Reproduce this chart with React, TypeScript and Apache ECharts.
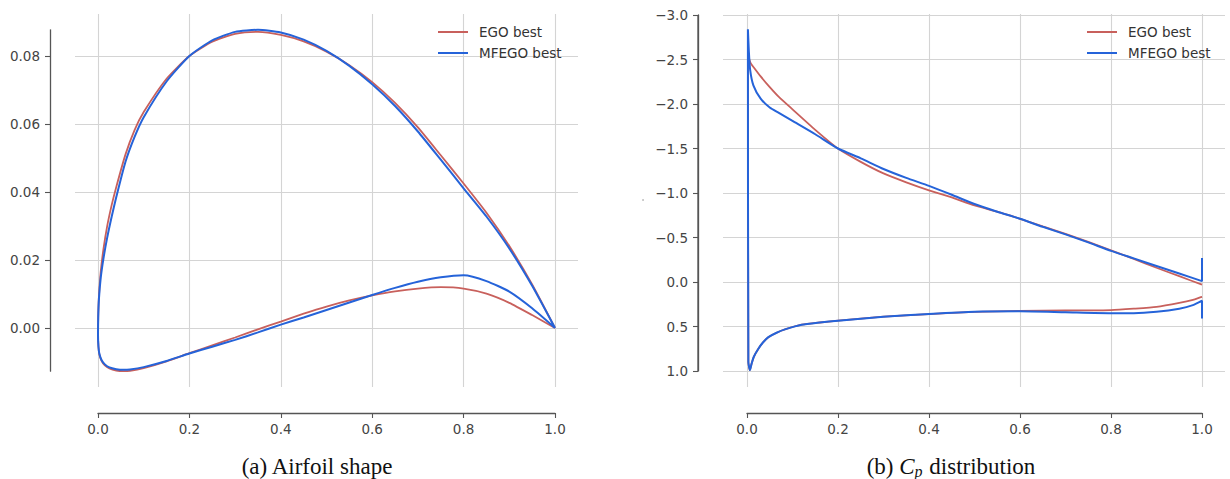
import { useEffect, useRef } from "react";
import * as echarts from "echarts";

// ---- Airfoil shape (x/c, y/c): upper surface TE -> LE, lower surface LE -> TE ----
const egoUpperX = [1.0, 0.95, 0.9, 0.85, 0.8, 0.75, 0.7, 0.65, 0.6, 0.55, 0.5, 0.45, 0.4, 0.35, 0.3, 0.25, 0.2, 0.15, 0.1, 0.08, 0.06, 0.04, 0.03, 0.02, 0.012, 0.006, 0.002, 0.0005, 0.0];
const egoUpperY = [0.0, 0.0128, 0.0241, 0.0339, 0.0425, 0.0508, 0.059, 0.0662, 0.0723, 0.0773, 0.0813, 0.0843, 0.0862, 0.0871, 0.0865, 0.0842, 0.08, 0.0733, 0.0635, 0.0582, 0.051, 0.0415, 0.0362, 0.0299, 0.0233, 0.0166, 0.0092, 0.0035, -0.002];
const egoLowerX = [0.001, 0.003, 0.008, 0.015, 0.025, 0.04, 0.055, 0.07, 0.1, 0.15, 0.2, 0.25, 0.3, 0.35, 0.4, 0.45, 0.5, 0.55, 0.6, 0.65, 0.7, 0.75, 0.8, 0.85, 0.9, 0.95, 1.0];
const egoLowerY = [-0.0055, -0.0078, -0.0097, -0.011, -0.0119, -0.0125, -0.0127, -0.0126, -0.0118, -0.0098, -0.0074, -0.0051, -0.0028, -0.0004, 0.0019, 0.0042, 0.0063, 0.0081, 0.0096, 0.0108, 0.0116, 0.012, 0.0116, 0.0101, 0.0074, 0.0038, 0.0];

const mfUpperX = [1.0, 0.95, 0.9, 0.85, 0.8, 0.75, 0.7, 0.65, 0.6, 0.55, 0.5, 0.45, 0.4, 0.35, 0.3, 0.25, 0.2, 0.15, 0.1, 0.08, 0.06, 0.04, 0.03, 0.02, 0.012, 0.006, 0.002, 0.0005, 0.0];
const mfUpperY = [0.0, 0.0124, 0.0234, 0.0328, 0.0411, 0.0495, 0.0578, 0.0653, 0.0717, 0.0771, 0.0815, 0.0848, 0.0869, 0.0877, 0.0871, 0.0846, 0.08, 0.0725, 0.062, 0.0562, 0.0488, 0.0385, 0.0328, 0.0265, 0.0205, 0.0148, 0.0085, 0.0032, -0.002];
const mfLowerX = [0.001, 0.003, 0.008, 0.015, 0.025, 0.04, 0.055, 0.07, 0.1, 0.15, 0.2, 0.25, 0.3, 0.35, 0.4, 0.45, 0.5, 0.55, 0.6, 0.65, 0.7, 0.75, 0.8, 0.85, 0.9, 0.95, 1.0];
const mfLowerY = [-0.0055, -0.0076, -0.0095, -0.0107, -0.0116, -0.0121, -0.0123, -0.0122, -0.0115, -0.0097, -0.0075, -0.0055, -0.0035, -0.0013, 0.001, 0.0031, 0.0053, 0.0075, 0.0097, 0.0118, 0.0136, 0.0149, 0.0155, 0.0138, 0.0107, 0.0058, 0.0];

// ---- Pressure coefficient Cp along x/c ----
const egoCpUpperX = [1.0, 0.95, 0.9, 0.85, 0.8, 0.75, 0.7, 0.65, 0.6, 0.55, 0.5, 0.45, 0.4, 0.35, 0.3, 0.25, 0.2, 0.15, 0.1, 0.07, 0.05, 0.03, 0.015, 0.008, 0.004, 0.002];
const egoCpUpperY = [0.03, -0.065, -0.16, -0.26, -0.355, -0.45, -0.54, -0.625, -0.71, -0.79, -0.86, -0.95, -1.03, -1.12, -1.22, -1.35, -1.5, -1.71, -1.94, -2.08, -2.19, -2.31, -2.41, -2.46, -2.52, -2.62];
const egoCpLowerX = [0.003, 0.006, 0.01, 0.015, 0.025, 0.035, 0.047, 0.065, 0.085, 0.12, 0.16, 0.2, 0.3, 0.4, 0.5, 0.6, 0.7, 0.8, 0.85, 0.9, 0.95, 0.98, 1.0];
const egoCpLowerY = [0.9, 0.99, 0.92, 0.84, 0.75, 0.68, 0.62, 0.57, 0.53, 0.48, 0.455, 0.435, 0.39, 0.36, 0.335, 0.325, 0.32, 0.315, 0.3, 0.28, 0.235, 0.2, 0.165];

const mfCpUpperX = [1.0, 1.0, 0.95, 0.9, 0.85, 0.8, 0.75, 0.7, 0.65, 0.6, 0.55, 0.5, 0.45, 0.4, 0.35, 0.3, 0.25, 0.2, 0.15, 0.1, 0.07, 0.05, 0.03, 0.014, 0.007, 0.004, 0.002];
const mfCpUpperY = [-0.27, -0.01, -0.095, -0.18, -0.265, -0.35, -0.445, -0.535, -0.62, -0.71, -0.79, -0.876, -0.98, -1.08, -1.17, -1.27, -1.39, -1.5, -1.66, -1.81, -1.9, -1.96, -2.06, -2.21, -2.38, -2.6, -2.84];
const mfCpLowerX = [0.003, 0.0066, 0.01, 0.015, 0.025, 0.035, 0.047, 0.065, 0.085, 0.12, 0.16, 0.2, 0.3, 0.4, 0.5, 0.6, 0.7, 0.8, 0.85, 0.9, 0.95, 0.98, 1.0, 1.0];
const mfCpLowerY = [0.9, 0.99, 0.92, 0.84, 0.75, 0.68, 0.62, 0.57, 0.53, 0.48, 0.455, 0.435, 0.39, 0.36, 0.335, 0.33, 0.34, 0.35, 0.35, 0.335, 0.3, 0.26, 0.21, 0.41];

// ---- Tick settings ----
const xTickStep = 0.2;
const shapeTickMax = 0.08;
const shapeTickStep = 0.02;
const cpMin = -3.0;
const cpMax = 1.0;
const cpTickStep = 0.5;

const SERIES_NAMES = ["EGO best", "MFEGO best"];

const RED = "#c8605c";
const BLUE = "#2563d9";
const GRID_C = "#d4d4d4";
const SPINE_C = "#555555";
const TEXT_C = "#444444";
const FONT = "DejaVu Sans, Verdana, sans-serif";
const SERIF = '"Liberation Serif", "Times New Roman", serif';
const FS = 13.5;
const CAPTION_FS = 23;

const pairs = (xs: number[], ys: number[]) => xs.map((x, i) => [x, ys[i]]);

export default function App() {
  const ref = useRef<HTMLDivElement>(null);

  useEffect(() => {
    if (!ref.current) return;
    const chart = echarts.init(ref.current, undefined, { renderer: "svg" });

    const egoShape = [...pairs(egoUpperX, egoUpperY), ...pairs(egoLowerX, egoLowerY)];
    const mfShape = [...pairs(mfUpperX, mfUpperY), ...pairs(mfLowerX, mfLowerY)];
    const egoCp = [...pairs(egoCpUpperX, egoCpUpperY), ...pairs(egoCpLowerX, egoCpLowerY)];
    const mfCp = [...pairs(mfCpUpperX, mfCpUpperY), ...pairs(mfCpLowerX, mfCpLowerY)];

    const allShapeY = [...egoUpperY, ...egoLowerY, ...mfUpperY, ...mfLowerY];
    const shapeMin = Math.min(...allShapeY);
    const shapeMax = Math.max(...allShapeY);

    // panel (a) layout
    const aLeft = 98, aWidth = 457, aZero = 328, aPxPerUnit = 3400;
    const aTop = aZero - shapeTickMax * aPxPerUnit;
    const aHeight = shapeTickMax * aPxPerUnit;
    const aSpineX = 50;
    // panel (b) layout
    const bLeft = 747, bWidth = 455, bTop = 15, bHeight = 356;
    const bSpineX = 698;
    const gridTop = 14, gridBottom = 387, spineOffset = 26;

    const spineLine = { show: true, onZero: false, lineStyle: { color: SPINE_C, width: 1.3 } };
    const tick = { show: true, length: 5, lineStyle: { color: SPINE_C, width: 1.1 } };
    const split = { show: true, lineStyle: { color: GRID_C, width: 1.1 } };
    const label = (fmt: (v: number) => string, margin: number) => ({
      color: TEXT_C,
      fontSize: FS,
      fontFamily: FONT,
      margin,
      formatter: fmt,
    });
    const hidden = { show: false };
    const minus = (s: string) => s.replace("-", "\u2212");

    const lineSeries = (name: string, color: string, width: number, data: number[][], idx: number) => ({
      type: "line",
      name,
      xAxisIndex: idx,
      yAxisIndex: idx,
      data,
      symbol: "none",
      showSymbol: false,
      clip: false,
      smooth: 0.2,
      lineStyle: { color, width },
      itemStyle: { color },
      emphasis: { disabled: true },
    });

    const legendBase = {
      orient: "vertical",
      top: 25,
      padding: 0,
      icon: "rect",
      itemWidth: 30,
      itemHeight: 2,
      itemGap: 7,
      selectedMode: false,
      data: SERIES_NAMES,
      textStyle: { color: "#333", fontSize: FS, fontFamily: FONT, padding: [0, 0, 0, 6] },
    };

    const hiddenX = (gridIndex: number) => ({ gridIndex, type: "value", min: 0, max: 1, show: false });

    chart.setOption({
      animation: false,
      backgroundColor: "#ffffff",
      grid: [
        // 0: panel (a) data
        { left: aLeft, top: aTop, width: aWidth, height: aHeight },
        // 1: panel (a) vertical grid + x spine
        { left: aLeft, top: gridTop, width: aWidth, height: gridBottom - gridTop },
        // 2: panel (a) horizontal grid lines
        { left: 75, top: aTop, width: 503, height: aHeight },
        // 3: panel (a) y spine over the data range
        { left: aSpineX, top: aZero - shapeMax * aPxPerUnit, width: 1, height: (shapeMax - shapeMin) * aPxPerUnit },
        // 4: panel (a) y ticks and labels on the spine
        { left: aSpineX, top: aTop, width: 1, height: aHeight },
        // 5: panel (b) data
        { left: bLeft, top: bTop, width: bWidth, height: bHeight },
        // 6: panel (b) vertical grid + x spine
        { left: bLeft, top: gridTop, width: bWidth, height: gridBottom - gridTop },
        // 7: panel (b) horizontal grid lines
        { left: 723, top: bTop, width: 502, height: bHeight },
        // 8: panel (b) y spine, ticks and labels
        { left: bSpineX, top: bTop, width: 1, height: bHeight },
      ],
      xAxis: [
        hiddenX(0),
        {
          gridIndex: 1, type: "value", min: 0, max: 1, interval: xTickStep, position: "bottom", offset: spineOffset,
          axisLine: spineLine, axisTick: tick, splitLine: split, axisLabel: label((v) => v.toFixed(1), 9),
        },
        hiddenX(2),
        hiddenX(3),
        hiddenX(4),
        hiddenX(5),
        {
          gridIndex: 6, type: "value", min: 0, max: 1, interval: xTickStep, position: "bottom", offset: spineOffset,
          axisLine: spineLine, axisTick: tick, splitLine: split, axisLabel: label((v) => v.toFixed(1), 9),
        },
        hiddenX(7),
        hiddenX(8),
      ],
      yAxis: [
        { gridIndex: 0, type: "value", min: 0, max: shapeTickMax, show: false },
        { gridIndex: 1, type: "value", min: 0, max: 1, show: false },
        {
          gridIndex: 2, type: "value", min: 0, max: shapeTickMax, interval: shapeTickStep,
          axisLine: hidden, axisTick: hidden, axisLabel: hidden, splitLine: split,
        },
        {
          gridIndex: 3, type: "value", min: shapeMin, max: shapeMax,
          axisLine: spineLine, axisTick: hidden, axisLabel: hidden, splitLine: hidden,
        },
        {
          gridIndex: 4, type: "value", min: 0, max: shapeTickMax, interval: shapeTickStep,
          axisLine: hidden, axisTick: tick, splitLine: hidden, axisLabel: label((v) => v.toFixed(2), 10),
        },
        { gridIndex: 5, type: "value", min: cpMin, max: cpMax, inverse: true, show: false },
        { gridIndex: 6, type: "value", min: 0, max: 1, show: false },
        {
          gridIndex: 7, type: "value", min: cpMin, max: cpMax, interval: cpTickStep, inverse: true,
          axisLine: hidden, axisTick: hidden, axisLabel: hidden, splitLine: split,
        },
        {
          gridIndex: 8, type: "value", min: cpMin, max: cpMax, interval: cpTickStep, inverse: true,
          axisLine: spineLine, axisTick: tick, splitLine: hidden, axisLabel: label((v) => minus(v.toFixed(1)), 10),
        },
      ],
      legend: [
        { ...legendBase, left: 438 },
        { ...legendBase, left: 1087 },
      ],
      series: [
        lineSeries(SERIES_NAMES[0], RED, 1.8, egoShape, 0),
        lineSeries(SERIES_NAMES[1], BLUE, 2.0, mfShape, 0),
        lineSeries(SERIES_NAMES[0], RED, 1.8, egoCp, 5),
        lineSeries(SERIES_NAMES[1], BLUE, 2.0, mfCp, 5),
      ],
      graphic: [
        // panel (b) left spine, spanning the full tick range
        {
          type: "line",
          shape: { x1: bSpineX, y1: bTop, x2: bSpineX, y2: bTop + bHeight },
          style: { stroke: SPINE_C, lineWidth: 1.3 },
          z: 10,
        },
        {
          type: "text",
          x: 317,
          y: 466,
          style: {
            text: "(a) Airfoil shape",
            fill: "#111",
            font: `${CAPTION_FS}px ${SERIF}`,
            align: "center",
            verticalAlign: "middle",
          },
        },
        {
          type: "text",
          x: 951,
          y: 466,
          style: {
            text: "{n|(b) }{c|C}{p|p}{n| distribution}",
            fill: "#111",
            align: "center",
            verticalAlign: "middle",
            rich: {
              n: { fontSize: CAPTION_FS, fontFamily: SERIF, fill: "#111" },
              c: { fontSize: CAPTION_FS, fontStyle: "italic", fontFamily: SERIF, fill: "#111" },
              p: { fontSize: 16, fontStyle: "italic", fontFamily: SERIF, fill: "#111", padding: [10, 1, 0, 0] },
            },
          },
        },
        { type: "circle", shape: { cx: 643, cy: 200, r: 0.8 }, style: { fill: "#b0b0b0" } },
      ],
    });

    return () => chart.dispose();
  }, []);

  return (
    <div
      ref={ref}
      style={{ position: "fixed", left: 0, top: 0, width: 1230, height: 479, background: "#fff" }}
    />
  );
}
